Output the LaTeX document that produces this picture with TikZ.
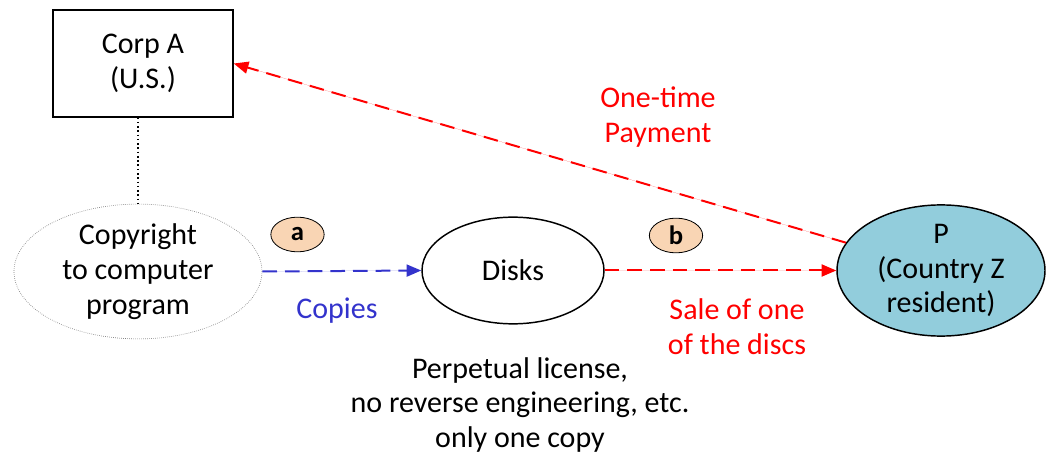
\documentclass[tikz,border=0pt]{standalone}
\usepackage{fontspec}
\setmainfont{Carlito}
\usetikzlibrary{shapes.geometric,arrows.meta}
\definecolor{pblue}{HTML}{92CDDC}
\definecolor{peach}{HTML}{F9D5B4}
\definecolor{cblue}{HTML}{3333CC}
\begin{document}
\begin{tikzpicture}[x=0.75pt,y=-0.75pt,
  txt/.style={font=\fontsize{22.5pt}{26pt}\selectfont, align=center, inner sep=0pt},
  ell/.style={ellipse, draw, line width=1.1pt, inner sep=0pt},
  badge/.style={ellipse, draw, line width=0.6pt, fill=peach, inner sep=0pt,
    minimum width=40pt, minimum height=26pt, font=\fontsize{20pt}{22pt}\selectfont\bfseries},
  flow/.style={line width=1.5pt, dash pattern=on 11pt off 6pt, -{Triangle[length=11pt,width=9pt]}}
]
\useasboundingbox (0,0) rectangle (1047,456);
\node[draw, line width=1.1pt, minimum width=135pt, minimum height=80pt, txt] (corp) at (143,63.5) {Corp A\\(U.S.)};
\node[ell, draw=gray, line width=0.5pt, densely dotted, minimum width=186pt, minimum height=94pt, txt] (copy) at (138,271.5) {Copyright\\to computer\\program};
\node[ell, minimum width=136.5pt, minimum height=80pt, txt] (disks) at (513,270.5) {Disks};
\node[ell, fill=pblue, minimum width=156pt, minimum height=94pt, txt] (P) at (941,270.5) {P\\(Country Z\\resident)};
\node[badge] (ba) at (297.5,234.5) {a};
\node[badge] (bb) at (676,235.5) {b};
\node[txt, text=cblue] (copies) at (337,311) {Copies};
\node[txt, text=red] (sale) at (737,327) {Sale of one\\of the discs};
\node[txt, text=red] (pay) at (658,117) {One-time\\Payment};
\node[txt] (lic) at (520,405) {Perpetual license,\\no reverse engineering, etc.\\only one copy};
\draw[line width=1.2pt, dotted] (corp.south -| copy.north) -- (copy.north);
\draw[flow, draw=cblue, fill=cblue] (copy.east) -- (disks.west);
\draw[flow, draw=red, fill=red] (disks.east) -- (P.west);
\draw[flow, draw=red, fill=red] (P) -- (corp.east);
\end{tikzpicture}
\end{document}
